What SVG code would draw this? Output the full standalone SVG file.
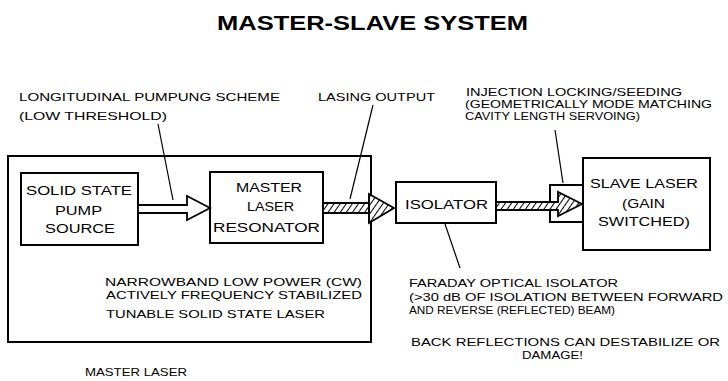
<svg xmlns="http://www.w3.org/2000/svg" width="728" height="381" viewBox="0 0 728 381">
<style>
text{font-family:"Liberation Sans",Arial,Helvetica,sans-serif;font-size:11px;fill:#000}
.sm{font-size:10.5px}
.lg{font-size:12px}
.title{font-size:20px;font-weight:bold}
.box{fill:none;stroke:#000;stroke-width:2}
.lead{fill:none;stroke:#000;stroke-width:1.2}
.hollow{fill:#fff;stroke:#000;stroke-width:1.8;stroke-linejoin:miter}
.hatch{fill:url(#hatch);stroke:#000;stroke-width:1.8;stroke-linejoin:miter}
</style>
<defs>
<pattern id="hatch" patternUnits="userSpaceOnUse" width="5" height="5" patternTransform="rotate(35)">
<rect width="5" height="5" fill="#fff"/>
<line x1="0" y1="0" x2="0" y2="5" stroke="#000" stroke-width="2"/>
</pattern>
</defs>
<rect width="728" height="381" fill="#fff"/>
<text class="title" x="217" y="30" textLength="311" lengthAdjust="spacingAndGlyphs">MASTER-SLAVE SYSTEM</text>

<g id="master-laser">
<rect class="box" x="8" y="156" width="363" height="186"/>
<text x="105" y="286" textLength="257" lengthAdjust="spacingAndGlyphs">NARROWBAND LOW POWER (CW)</text>
<text x="106" y="299" textLength="256" lengthAdjust="spacingAndGlyphs">ACTIVELY FREQUENCY STABILIZED</text>
<text x="106" y="318" textLength="219" lengthAdjust="spacingAndGlyphs">TUNABLE SOLID STATE LASER</text>
<text x="85" y="376" textLength="102" lengthAdjust="spacingAndGlyphs">MASTER LASER</text>
</g>

<g id="pump-source">
<rect class="box" x="21" y="173" width="117" height="72"/>
<text class="lg" x="26" y="195" textLength="106" lengthAdjust="spacingAndGlyphs">SOLID STATE</text>
<text class="lg" x="55" y="215" textLength="47" lengthAdjust="spacingAndGlyphs">PUMP</text>
<text class="lg" x="45" y="233" textLength="70" lengthAdjust="spacingAndGlyphs">SOURCE</text>
</g>

<g id="master-resonator">
<rect class="box" x="210" y="172" width="113" height="71"/>
<text class="lg" x="236" y="192" textLength="66" lengthAdjust="spacingAndGlyphs">MASTER</text>
<text class="lg" x="247" y="211" textLength="47" lengthAdjust="spacingAndGlyphs">LASER</text>
<text class="lg" x="213" y="232" textLength="107" lengthAdjust="spacingAndGlyphs">RESONATOR</text>
</g>

<g id="isolator">
<rect class="box" x="396" y="182" width="100" height="41"/>
<text class="lg" x="405" y="209" textLength="83" lengthAdjust="spacingAndGlyphs">ISOLATOR</text>
</g>

<g id="injection">
<rect class="box" x="550" y="185" width="33" height="37"/>
</g>

<g id="slave-laser">
<rect class="box" x="583" y="158" width="127" height="92"/>
<text class="lg" x="590" y="188" textLength="108" lengthAdjust="spacingAndGlyphs">SLAVE LASER</text>
<text class="lg" x="622" y="208" textLength="43" lengthAdjust="spacingAndGlyphs">(GAIN</text>
<text class="lg" x="598" y="226" textLength="92" lengthAdjust="spacingAndGlyphs">SWITCHED)</text>
</g>

<g id="labels">
<text x="19" y="101" textLength="261" lengthAdjust="spacingAndGlyphs">LONGITUDINAL PUMPUNG SCHEME</text>
<text x="19" y="120" textLength="148" lengthAdjust="spacingAndGlyphs">(LOW THRESHOLD)</text>
<text x="318" y="101" textLength="117" lengthAdjust="spacingAndGlyphs">LASING OUTPUT</text>
<text class="sm" x="466" y="96" textLength="216" lengthAdjust="spacingAndGlyphs">INJECTION LOCKING/SEEDING</text>
<text class="sm" x="465" y="108" textLength="247" lengthAdjust="spacingAndGlyphs">(GEOMETRICALLY MODE MATCHING</text>
<text class="sm" x="465" y="120" textLength="175" lengthAdjust="spacingAndGlyphs">CAVITY LENGTH SERVOING)</text>
<text x="409" y="287" textLength="209" lengthAdjust="spacingAndGlyphs">FARADAY OPTICAL ISOLATOR</text>
<text x="409" y="301" textLength="314" lengthAdjust="spacingAndGlyphs">(&gt;30 dB OF ISOLATION BETWEEN FORWARD</text>
<text x="409" y="314" textLength="206" lengthAdjust="spacingAndGlyphs">AND REVERSE (REFLECTED) BEAM)</text>
<text x="411" y="346" textLength="309" lengthAdjust="spacingAndGlyphs">BACK REFLECTIONS CAN DESTABILIZE OR</text>
<text x="522" y="359" textLength="61" lengthAdjust="spacingAndGlyphs">DAMAGE!</text>
</g>

<g id="connectors">
<polygon class="hollow" points="138,205 187,205 187,196 210,208 187,220 187,213 138,213"/>
<polygon class="hatch" points="323,203 369,203 369,194 394,208 369,223 369,213 323,213"/>
<line x1="369" y1="194" x2="369" y2="223" stroke="#000" stroke-width="2"/>
<polygon class="hatch" points="496,202 558,202 558,192 582,204 558,216 558,210 496,210"/>
<line class="lead" x1="158" y1="124" x2="173" y2="200"/>
<line class="lead" x1="373" y1="105" x2="350" y2="199"/>
<line class="lead" x1="555" y1="130" x2="563" y2="183"/>
<line class="lead" x1="445" y1="224" x2="460" y2="268"/>
</g>
</svg>
